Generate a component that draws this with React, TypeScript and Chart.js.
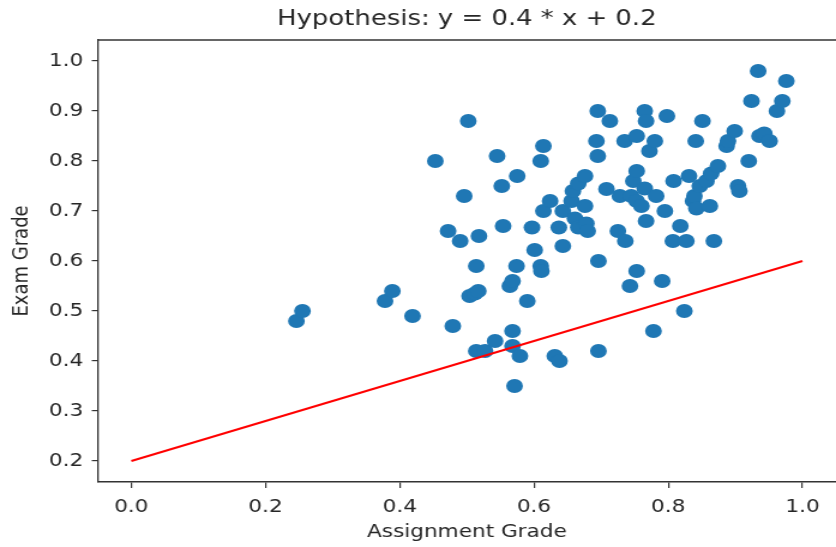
import React, { useEffect, useRef } from "react";
import { Chart, registerables } from "chart.js";

Chart.register(...registerables);

const chartTitle = "Hypothesis: y = 0.4 * x + 0.2";
const xAxisLabel = "Assignment Grade";
const yAxisLabel = "Exam Grade";
const xTicks = [0, 0.2, 0.4, 0.6, 0.8, 1.0];
const yTicks = [0.2, 0.3, 0.4, 0.5, 0.6, 0.7, 0.8, 0.9, 1.0];

const assignmentGrades = [
  0.246, 0.255, 0.378, 0.389, 0.419, 0.453, 0.472, 0.479, 0.49, 0.496,
  0.502, 0.504, 0.512, 0.517, 0.514, 0.514, 0.518, 0.527, 0.542, 0.545,
  0.552, 0.554, 0.564, 0.568, 0.568, 0.568, 0.571, 0.574, 0.575, 0.579,
  0.59, 0.597, 0.601, 0.61, 0.614, 0.61, 0.611, 0.614, 0.624, 0.631,
  0.638, 0.637, 0.643, 0.643, 0.656, 0.658, 0.661, 0.666, 0.666, 0.676,
  0.676, 0.678, 0.68, 0.693, 0.695, 0.695, 0.696, 0.696, 0.708, 0.713,
  0.725, 0.728, 0.735, 0.736, 0.743, 0.745, 0.748, 0.753, 0.753, 0.753,
  0.753, 0.76, 0.765, 0.767, 0.767, 0.772, 0.78, 0.765, 0.782, 0.778,
  0.791, 0.795, 0.798, 0.807, 0.808, 0.818, 0.824, 0.827, 0.831, 0.837,
  0.839, 0.841, 0.847, 0.842, 0.851, 0.857, 0.862, 0.864, 0.868, 0.874,
  0.887, 0.889, 0.899, 0.904, 0.906, 0.92, 0.924, 0.934, 0.936, 0.943,
  0.951, 0.962, 0.97, 0.976,
];

const examGrades = [
  0.48, 0.5, 0.52, 0.54, 0.49, 0.8, 0.66, 0.47, 0.64, 0.73,
  0.88, 0.53, 0.535, 0.54, 0.59, 0.42, 0.65, 0.42, 0.44, 0.81,
  0.75, 0.67, 0.55, 0.56, 0.46, 0.43, 0.35, 0.59, 0.77, 0.41,
  0.52, 0.667, 0.622, 0.8, 0.83, 0.59, 0.58, 0.7, 0.72, 0.41,
  0.4, 0.667, 0.63, 0.7, 0.72, 0.74, 0.685, 0.755, 0.667, 0.77,
  0.71, 0.675, 0.66, 0.84, 0.81, 0.9, 0.6, 0.42, 0.744, 0.88,
  0.66, 0.73, 0.84, 0.64, 0.55, 0.73, 0.76, 0.78, 0.85, 0.58,
  0.72, 0.71, 0.9, 0.88, 0.68, 0.82, 0.84, 0.745, 0.73, 0.46,
  0.56, 0.7, 0.89, 0.64, 0.76, 0.67, 0.5, 0.64, 0.77, 0.72,
  0.73, 0.84, 0.75, 0.705, 0.88, 0.76, 0.71, 0.775, 0.64, 0.79,
  0.83, 0.84, 0.86, 0.75, 0.74, 0.8, 0.92, 0.98, 0.85, 0.855,
  0.84, 0.9, 0.92, 0.96,
];

const hypothesisX = [0.0, 1.0];
const hypothesisY = [0.2, 0.6];

const CSS_W = 836;
const CSS_H = 547;
const STRETCH = 1.2;
const INT_W = Math.round(CSS_W / STRETCH);
const FONT = "'DejaVu Sans', sans-serif";
const TEXT_COLOR = "#262626";
const AXIS_COLOR = "#333333";

export default function App() {
  const ref = useRef<HTMLCanvasElement | null>(null);

  useEffect(() => {
    const canvas = ref.current;
    if (!canvas) return;

    const framePlugin = {
      id: "topFrame",
      afterDraw(chart: any) {
        const { ctx, chartArea } = chart;
        ctx.save();
        ctx.strokeStyle = AXIS_COLOR;
        ctx.lineWidth = 1.5;
        ctx.beginPath();
        ctx.moveTo(chartArea.left, chartArea.top);
        ctx.lineTo(chartArea.right, chartArea.top);
        ctx.stroke();
        ctx.restore();
      },
    };

    const chart = new Chart(canvas, {
      type: "scatter",
      data: {
        datasets: [
          {
            type: "line",
            label: "hypothesis",
            data: hypothesisX.map((x, i) => ({ x, y: hypothesisY[i] })),
            borderColor: "#ff0000",
            borderWidth: 2,
            pointRadius: 0,
            fill: false,
            tension: 0,
            showLine: true,
          } as any,
          {
            type: "scatter",
            label: "grades",
            data: assignmentGrades.map((x, i) => ({ x, y: examGrades[i] })),
            pointRadius: 7,
            pointHoverRadius: 7,
            pointBackgroundColor: "#1f77b4",
            pointBorderWidth: 0,
            backgroundColor: "#1f77b4",
          },
        ],
      },
      options: {
        responsive: false,
        animation: false,
        devicePixelRatio: 1,
        layout: { padding: 0, autoPadding: false },
        plugins: {
          legend: { display: false },
          tooltip: { enabled: false },
          title: {
            display: true,
            text: chartTitle,
            fullSize: false,
            color: TEXT_COLOR,
            font: { family: FONT, size: 21.6, weight: "normal" },
            padding: { top: 6, bottom: 8 },
          },
        },
        scales: {
          x: {
            type: "linear",
            min: -0.05,
            max: 1.05,
            afterBuildTicks: (s: any) => {
              s.ticks = xTicks.map((v) => ({ value: v }));
            },
            afterFit: (s: any) => {
              s.height = 65;
              s.paddingLeft = 0;
              s.paddingRight = 0;
            },
            grid: {
              display: true,
              drawOnChartArea: false,
              drawTicks: true,
              tickLength: 6,
              color: AXIS_COLOR,
              lineWidth: 1.2,
            },
            border: { display: true, color: AXIS_COLOR, width: 1.5 },
            ticks: {
              color: TEXT_COLOR,
              font: { family: FONT, size: 18 },
              padding: 9,
              maxRotation: 0,
              autoSkip: false,
              callback: (v: any) => Number(v).toFixed(1),
            },
            title: {
              display: true,
              text: xAxisLabel,
              color: TEXT_COLOR,
              font: { family: FONT, size: 18 },
              padding: { top: 0, bottom: 4 },
            },
          },
          y: {
            type: "linear",
            min: 0.158,
            max: 1.042,
            afterBuildTicks: (s: any) => {
              s.ticks = yTicks.map((v) => ({ value: v }));
            },
            afterFit: (s: any) => {
              s.width = 81.5;
              s.paddingTop = 0;
              s.paddingBottom = 0;
            },
            grid: {
              display: true,
              drawOnChartArea: false,
              drawTicks: true,
              tickLength: 5,
              color: AXIS_COLOR,
              lineWidth: 1.2,
            },
            border: { display: true, color: AXIS_COLOR, width: 1.3 },
            ticks: {
              color: TEXT_COLOR,
              font: { family: FONT, size: 18 },
              padding: 7,
              autoSkip: false,
              callback: (v: any) => Number(v).toFixed(1),
            },
            title: {
              display: true,
              text: yAxisLabel,
              color: TEXT_COLOR,
              font: { family: FONT, size: 18 },
              padding: { top: 8, bottom: 0 },
            },
          },
        },
      },
      plugins: [framePlugin],
    });

    return () => {
      chart.destroy();
    };
  }, []);

  return (
    <div
      style={{
        position: "fixed",
        left: 0,
        top: 0,
        width: CSS_W,
        height: CSS_H,
        background: "#ffffff",
        overflow: "hidden",
      }}
    >
      <canvas
        ref={ref}
        width={INT_W}
        height={CSS_H}
        style={{ width: `${CSS_W}px`, height: `${CSS_H}px`, display: "block" }}
      />
    </div>
  );
}
